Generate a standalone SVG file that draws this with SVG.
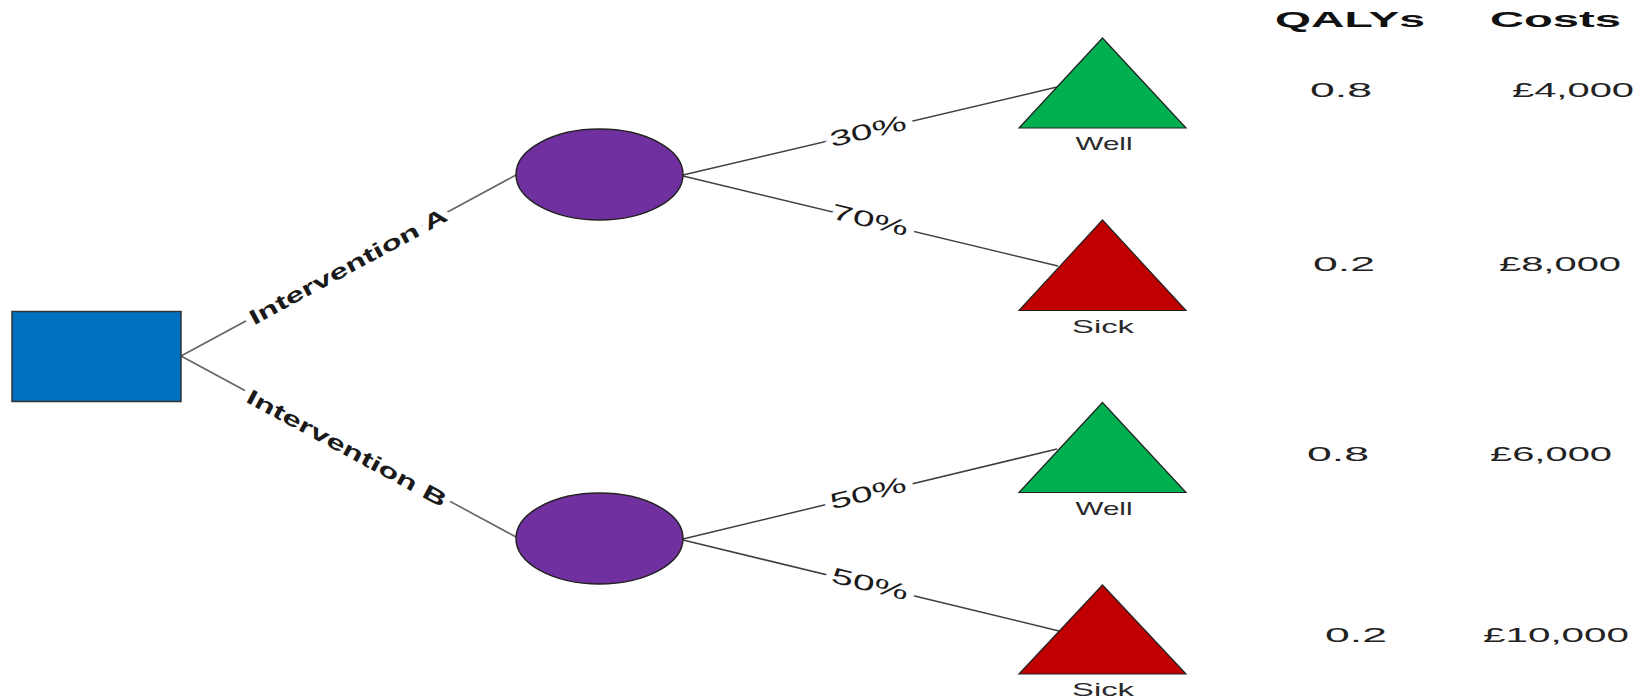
<svg xmlns="http://www.w3.org/2000/svg" width="1645" height="700" viewBox="0 0 1645 700">
  <style>
    .edge { stroke: #404040; stroke-width: 1.5; fill: none; }
    .edge-main { stroke: #666666; stroke-width: 1.6; fill: none; }
    .lbl { font-family: "Liberation Sans", Arial, sans-serif; fill: #1a1a1a; text-anchor: middle; dominant-baseline: central; paint-order: stroke; stroke: #ffffff; stroke-width: 9; stroke-linejoin: round; }
    .bold { font-weight: bold; }
    .outcome { font-family: "Liberation Sans", Arial, sans-serif; font-size: 19px; fill: #2a2a2a; text-anchor: middle; }
    .head { font-family: "Liberation Sans", Arial, sans-serif; font-size: 22px; font-weight: bold; fill: #111; }
    .val { font-family: "Liberation Sans", Arial, sans-serif; font-size: 21px; fill: #222; }
    .decision { fill: #0070C0; stroke: #333; stroke-width: 1.5; }
    .chance { fill: #7030A0; stroke: #222; stroke-width: 1.5; }
    .well { fill: #00B050; stroke: #222; stroke-width: 1.2; }
    .sick { fill: #C00000; stroke: #222; stroke-width: 1.2; }
  </style>

  <!-- branches -->
  <g id="connectors">
    <line class="edge-main" x1="181" y1="356" x2="516" y2="175"/>
    <line class="edge-main" x1="181" y1="356" x2="516" y2="537"/>
    <line class="edge" x1="683" y1="175" x2="1057" y2="87"/>
    <line class="edge" x1="683" y1="176" x2="1058" y2="266"/>
    <line class="edge" x1="683" y1="539" x2="1057" y2="449"/>
    <line class="edge" x1="683" y1="540" x2="1059" y2="631"/>

    <text class="lbl bold" font-size="21" textLength="222" lengthAdjust="spacingAndGlyphs" transform="translate(348,266) rotate(-28.4)">Intervention A</text>
    <text class="lbl bold" font-size="21" textLength="224" lengthAdjust="spacingAndGlyphs" transform="translate(347,448) rotate(28.3)">Intervention B</text>

    <text class="lbl" font-size="22" textLength="78" lengthAdjust="spacingAndGlyphs" transform="translate(868,131) rotate(-13.2)">30%</text>
    <text class="lbl" font-size="22" textLength="78" lengthAdjust="spacingAndGlyphs" transform="translate(870,220) rotate(13.3)">70%</text>
    <text class="lbl" font-size="22" textLength="78" lengthAdjust="spacingAndGlyphs" transform="translate(868,493) rotate(-13.7)">50%</text>
    <text class="lbl" font-size="22" textLength="78" lengthAdjust="spacingAndGlyphs" transform="translate(870,584) rotate(13.7)">50%</text>
  </g>

  <!-- decision node -->
  <g id="decision">
    <rect class="decision" x="12" y="311.5" width="169" height="90"/>
  </g>

  <!-- chance nodes -->
  <g id="chance-a">
    <ellipse class="chance" cx="599.5" cy="174.5" rx="83.5" ry="45.5"/>
  </g>
  <g id="chance-b">
    <ellipse class="chance" cx="599.5" cy="538.5" rx="83.5" ry="45.5"/>
  </g>

  <!-- terminal nodes -->
  <g id="a-well">
    <polygon class="well" points="1102.5,38 1186,128 1019,128"/>
    <text class="outcome" x="1104" y="150" textLength="57" lengthAdjust="spacingAndGlyphs">Well</text>
  </g>
  <g id="a-sick">
    <polygon class="sick" points="1102.5,220 1186,310.5 1019,310.5"/>
    <text class="outcome" x="1103" y="332.5" textLength="62" lengthAdjust="spacingAndGlyphs">Sick</text>
  </g>
  <g id="b-well">
    <polygon class="well" points="1102.5,402.5 1186,492.5 1019,492.5"/>
    <text class="outcome" x="1104" y="514.5" textLength="57" lengthAdjust="spacingAndGlyphs">Well</text>
  </g>
  <g id="b-sick">
    <polygon class="sick" points="1102.5,585 1186,674 1019,674"/>
    <text class="outcome" x="1103" y="696" textLength="62" lengthAdjust="spacingAndGlyphs">Sick</text>
  </g>

  <!-- payoff table -->
  <g id="payoffs">
    <text class="head" x="1275" y="27" textLength="150" lengthAdjust="spacingAndGlyphs">QALYs</text>
    <text class="head" x="1490" y="27" textLength="131" lengthAdjust="spacingAndGlyphs">Costs</text>

    <text class="val" x="1310" y="97" textLength="62" lengthAdjust="spacingAndGlyphs">0.8</text>
    <text class="val" x="1512" y="97" textLength="122" lengthAdjust="spacingAndGlyphs">£4,000</text>

    <text class="val" x="1313" y="271" textLength="62" lengthAdjust="spacingAndGlyphs">0.2</text>
    <text class="val" x="1499" y="271" textLength="122" lengthAdjust="spacingAndGlyphs">£8,000</text>

    <text class="val" x="1307" y="461" textLength="62" lengthAdjust="spacingAndGlyphs">0.8</text>
    <text class="val" x="1490" y="461" textLength="122" lengthAdjust="spacingAndGlyphs">£6,000</text>

    <text class="val" x="1325" y="642" textLength="62" lengthAdjust="spacingAndGlyphs">0.2</text>
    <text class="val" x="1483" y="642" textLength="146" lengthAdjust="spacingAndGlyphs">£10,000</text>
  </g>
</svg>
